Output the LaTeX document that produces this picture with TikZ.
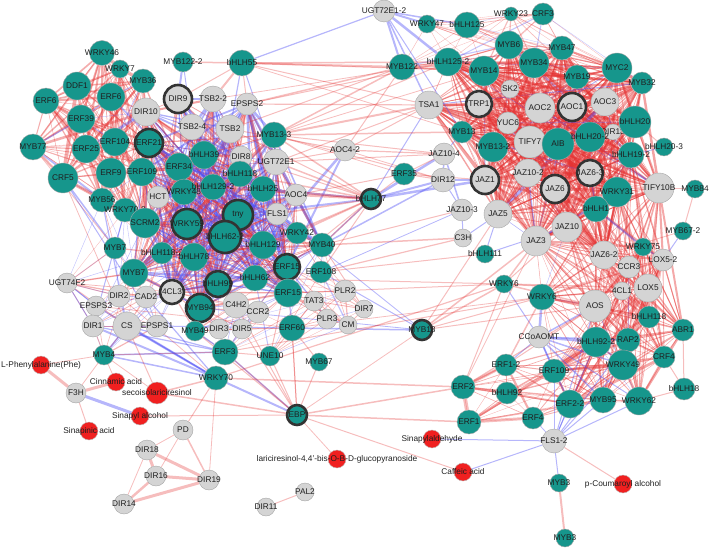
\documentclass[tikz,border=0pt]{standalone}
\usepackage{fontspec}
\setmainfont{Liberation Sans}
\pgfdeclarelayer{bg}
\pgfsetlayers{bg,main}
\definecolor{tealN}{RGB}{22,150,140}
\definecolor{grayN}{RGB}{212,212,212}
\definecolor{redN}{RGB}{240,32,32}
\definecolor{redE}{RGB}{228,50,50}
\definecolor{blueE}{RGB}{80,80,245}
\tikzset{
  tn/.style={circle,fill=tealN,draw=black!35,line width=0.4pt,inner sep=0pt},
  gn/.style={circle,fill=grayN,draw=black!35,line width=0.4pt,inner sep=0pt},
  rn/.style={circle,fill=redN,draw=black!25,line width=0.4pt,inner sep=0pt},
  bd/.style={draw=black!80,line width=2.6pt},
  lab/.style={font=\fontsize{8.3}{9}\selectfont,text=black!88,inner sep=0pt},
  re/.style={draw=redE,draw opacity=0.32},
  be/.style={draw=blueE,draw opacity=0.42}
}
\newcommand\nd[6]{\node[#1,minimum size=#5pt,label={[lab]center:{#6}}] (#2) at (#3,#4) {};}
\newcommand\clus[5]{%
\foreach \a [count=\i] in {#1}{%
 \foreach \b [count=\j] in {#1}{%
  \ifnum\j>\i
   \pgfmathtruncatemacro\dd{\j-\i}%
   \ifnum\dd<#2
    \pgfmathsetmacro\ww{0.3+#4*rnd*rnd}%
    \pgfmathsetmacro\rr{rnd}%
    \ifdim\rr pt<#3pt \draw[be,draw opacity=#5,line width=\ww pt](\a)--(\b);\else\draw[re,draw opacity=#5,line width=\ww pt](\a)--(\b);\fi
   \fi
  \fi}}}
\begin{document}
\begin{tikzpicture}[x=1pt,y=-1pt]
\useasboundingbox (0,0) rectangle (709,548);
% ---------- nodes: left cluster
\nd{tn}{WRKY46}{102}{53}{25}{WRKY46}
\nd{tn}{WRKY7}{120}{69}{18}{WRKY7}
\nd{tn}{MYB122x2}{183}{62}{20}{MYB122-2}
\nd{tn}{DDF1}{77}{86}{28}{DDF1}
\nd{tn}{MYB36}{143}{81}{24}{MYB36}
\nd{tn}{ERF6a}{46}{101}{26}{ERF6}
\nd{tn}{ERF6b}{111}{97}{28}{ERF6}
\nd{tn}{ERF39}{81}{119}{28}{ERF39}
\nd{tn}{MYB77}{33}{147}{26}{MYB77}
\nd{tn}{ERF25}{86}{149}{28}{ERF25}
\nd{tn}{ERF104}{115}{142}{28}{ERF104}
\nd{gn}{DIR10}{146}{112}{28}{DIR10}
\nd{gn,bd}{DIR9}{178}{99}{28}{DIR9}
\nd{gn}{TSB2x2}{213}{99}{26}{TSB2-2}
\nd{gn}{EPSPS2}{247}{104}{22}{EPSPS2}
\nd{gn}{TSB2x4}{192}{127}{26}{TSB2-4}
\nd{gn}{TSB2}{230}{129}{28}{TSB2}
\nd{tn,bd}{ERF21}{149}{143}{28}{ERF21}
\nd{tn}{CRF5}{63}{178}{30}{CRF5}
\nd{tn}{ERF9}{111}{173}{30}{ERF9}
\nd{tn}{ERF109a}{142}{172}{28}{ERF109}
\nd{tn}{bHLH39}{204}{155}{28}{bHLH39}
\nd{gn}{DIR8}{241}{157}{22}{DIR8}
\nd{tn}{ERF34}{179}{167}{28}{ERF34}
\nd{tn}{bHLH55}{242}{63}{26}{bHLH55}
\nd{tn}{MYB13x3}{274}{135}{26}{MYB13-3}
\nd{gn}{UGT72E1}{276}{162}{26}{UGT72E1}
\nd{tn}{bHLH118c}{240}{174}{26}{bHLH118}
\nd{tn}{MYB56}{102}{200}{24}{MYB56}
\nd{gn}{HCT}{158}{197}{22}{HCT}
\nd{tn}{WRKY48}{184}{192}{26}{WRKY48}
\nd{tn}{bHLH129x2}{213}{187}{26}{bHLH129-2}
\nd{tn}{bHLH25}{263}{189}{26}{bHLH25}
\nd{gn}{AOC4}{296}{195}{22}{AOC4}
\nd{tn}{WRKY70x2}{125}{210}{24}{WRKY70-2}
\nd{tn}{SCRM2}{145}{223}{30}{SCRM2}
\nd{tn,bd}{WRKY59}{187}{224}{30}{WRKY59}
\nd{tn,bd}{tny}{238}{215}{30}{tny}
\nd{gn}{FLS1}{277}{214}{22}{FLS1}
\nd{tn,bd}{bHLH62x2}{225}{237}{32}{bHLH62-2}
\nd{tn}{WRKY42}{297}{233}{22}{WRKY42}
\nd{tn}{MYB7a}{115}{248}{22}{MYB7}
\nd{tn}{bHLH118x2}{162}{253}{22}{bHLH118-2}
\nd{tn}{bHLH78}{194}{257}{28}{bHLH78}
\nd{tn}{bHLH129}{263}{245}{28}{bHLH129}
\nd{tn}{MYB40}{322}{245}{24}{MYB40}
\nd{tn}{MYB7b}{134}{273}{28}{MYB7}
\nd{tn,bd}{ERF15a}{287}{267}{26}{ERF15}
\nd{tn}{ERF108}{321}{272}{22}{ERF108}
\nd{tn}{bHLH62}{255}{278}{26}{bHLH62}
\nd{tn,bd}{bHLH99}{218}{284}{26}{bHLH99}
\nd{gn}{UGT74F2}{67}{283}{20}{UGT74F2}
\nd{gn}{DIR2}{119}{296}{22}{DIR2}
\nd{gn}{CAD2}{146}{297}{22}{CAD2}
\nd{gn,bd}{FCLthree}{172}{292}{24}{4CL3}
\nd{tn,bd}{MYB94}{200}{308}{28}{MYB94}
\nd{gn}{C4H2}{236}{305}{26}{C4H2}
\nd{gn}{CCR2}{258}{312}{22}{CCR2}
\nd{tn}{ERF15b}{288}{293}{28}{ERF15}
\nd{gn}{TAT3}{314}{301}{20}{TAT3}
\nd{gn}{PLR2}{345}{291}{22}{PLR2}
\nd{gn}{DIR7}{364}{309}{18}{DIR7}
\nd{gn}{PLR3}{327}{319}{20}{PLR3}
\nd{gn}{CM}{348}{325}{18}{CM}
\nd{gn}{EPSPS3}{96}{306}{20}{EPSPS3}
\nd{gn}{DIR1}{93}{326}{22}{DIR1}
\nd{gn}{CS}{127}{326}{28}{CS}
\nd{gn}{EPSPS1}{157}{326}{22}{EPSPS1}
\nd{tn}{MYB49}{195}{331}{20}{MYB49}
\nd{gn}{DIR3}{219}{329}{20}{DIR3}
\nd{gn}{DIR5}{242}{329}{20}{DIR5}
\nd{tn}{ERF60}{292}{328}{26}{ERF60}
\nd{tn}{ERF3}{225}{352}{26}{ERF3}
\nd{tn}{UNE10}{270}{356}{20}{UNE10}
\nd{tn}{MYB67}{319}{362}{18}{MYB67}
\nd{tn}{MYB4}{104}{355}{20}{MYB4}
\nd{tn}{WRKY70}{216}{378}{24}{WRKY70}
\nd{tn,bd}{EBP}{297}{415}{20}{EBP}
% ---------- middle
\nd{gn}{AOC4x2}{345}{150}{22}{AOC4-2}
\nd{tn,bd}{bHLH77}{371}{199}{20}{bHLH77}
\nd{tn}{ERF35}{404}{174}{22}{ERF35}
\nd{tn,bd}{MYB18}{422}{330}{20}{MYB18}
\nd{gn}{UGT72E1x2}{384}{11}{22}{UGT72E1-2}
% ---------- right top
\nd{tn}{MYB122}{402}{67}{26}{MYB122}
\nd{tn}{WRKY47}{427}{24}{18}{WRKY47}
\nd{tn}{bHLH125}{467}{25}{26}{bHLH125}
\nd{tn}{bHLH125x2}{448}{62}{28}{bHLH125-2}
\nd{tn}{WRKY23}{511}{14}{14}{WRKY23}
\nd{tn}{CRF3}{543}{14}{22}{CRF3}
\nd{tn}{MYB6}{509}{45}{28}{MYB6}
\nd{tn}{MYB47}{562}{48}{24}{MYB47}
\nd{tn}{MYB14}{484}{71}{30}{MYB14}
\nd{tn}{MYB34}{534}{63}{30}{MYB34}
\nd{tn}{MYC2}{617}{68}{30}{MYC2}
\nd{tn}{MYB19}{577}{77}{24}{MYB19}
\nd{tn}{MYB32}{642}{83}{22}{MYB32}
\nd{gn}{TSA1}{429}{105}{28}{TSA1}
\nd{gn}{SK2}{510}{89}{18}{SK2}
\nd{gn,bd}{TRP1}{479}{104}{26}{TRP1}
\nd{gn}{AOC2}{540}{108}{30}{AOC2}
\nd{gn,bd}{AOC1}{572}{107}{28}{AOC1}
\nd{gn}{AOC3}{605}{102}{28}{AOC3}
\nd{gn}{YUC6}{508}{123}{22}{YUC6}
\nd{gn}{DIR13}{613}{132}{16}{DIR13}
\nd{tn}{bHLH20}{635}{122}{32}{bHLH20}
\nd{tn}{MYB13}{462}{132}{22}{MYB13}
\nd{gn}{JAZ10x4}{444}{154}{22}{JAZ10-4}
\nd{tn}{MYB13x2}{493}{147}{30}{MYB13-2}
\nd{gn}{TIFY7}{530}{142}{32}{TIFY7}
\nd{tn}{AIB}{558}{144}{32}{AIB}
\nd{tn}{bHLH20x2}{590}{137}{30}{bHLH20-2}
\nd{tn}{bHLH19x2}{631}{155}{26}{bHLH19-2}
\nd{tn}{bHLH20x3}{664}{147}{18}{bHLH20-3}
\nd{gn}{DIR12}{443}{180}{24}{DIR12}
\nd{gn,bd}{JAZ1}{485}{180}{28}{JAZ1}
\nd{gn}{JAZ10x2}{528}{173}{28}{JAZ10-2}
\nd{gn,bd}{JAZ6x3}{590}{173}{26}{JAZ6-3}
\nd{gn,bd}{JAZ6}{555}{189}{28}{JAZ6}
\nd{tn}{WRKY31}{617}{192}{30}{WRKY31}
\nd{gn}{TIFY10B}{659}{188}{30}{TIFY10B}
\nd{tn}{MYB84}{695}{189}{18}{MYB84}
\nd{tn}{bHLH1}{596}{209}{26}{bHLH1}
\nd{gn}{JAZ10x3}{462}{210}{22}{JAZ10-3}
\nd{gn}{JAZ5}{498}{214}{28}{JAZ5}
\nd{gn}{JAZ10}{567}{227}{30}{JAZ10}
\nd{gn}{JAZ3}{536}{241}{30}{JAZ3}
\nd{gn}{C3H}{463}{238}{18}{C3H}
\nd{tn}{MYB67x2}{683}{231}{18}{MYB67-2}
\nd{tn}{bHLH111}{485}{254}{18}{bHLH111}
\nd{tn}{WRKY75}{643}{247}{18}{WRKY75}
\nd{gn}{JAZ6x2}{604}{255}{28}{JAZ6-2}
\nd{gn}{LOX5x2}{663}{260}{22}{LOX5-2}
\nd{gn}{CCR3}{629}{267}{22}{CCR3}
% ---------- right lower
\nd{tn}{WRKY6a}{504}{284}{18}{WRKY6}
\nd{gn}{FCLone}{622}{291}{18}{4CL1}
\nd{gn}{LOX5}{648}{288}{28}{LOX5}
\nd{tn}{WRKY6b}{542}{297}{26}{WRKY6}
\nd{gn}{AOS}{595}{306}{32}{AOS}
\nd{tn}{bHLH118r}{649}{317}{22}{bHLH118}
\nd{tn}{ABR1}{683}{330}{22}{ABR1}
\nd{gn}{CCoAOMT}{539}{337}{22}{CCoAOMT}
\nd{tn}{RAP2}{628}{340}{24}{RAP2}
\nd{tn}{bHLH92x2}{596}{342}{30}{bHLH92-2}
\nd{tn}{CRF4}{664}{357}{22}{CRF4}
\nd{tn}{ERF1x2}{506}{365}{22}{ERF1-2}
\nd{tn}{ERF109r}{554}{371}{24}{ERF109}
\nd{tn}{WRKY49}{623}{365}{30}{WRKY49}
\nd{tn}{ERF2}{463}{387}{24}{ERF2}
\nd{tn}{bHLH92}{507}{393}{22}{bHLH92}
\nd{tn}{bHLH18}{684}{389}{22}{bHLH18}
\nd{tn}{ERF2x2}{570}{404}{28}{ERF2-2}
\nd{tn}{MYB95}{603}{400}{26}{MYB95}
\nd{tn}{WRKY62}{639}{401}{28}{WRKY62}
\nd{tn}{ERF1}{469}{422}{24}{ERF1}
\nd{tn}{ERF4}{533}{418}{22}{ERF4}
\nd{gn}{FLS1x2}{554}{441}{24}{FLS1-2}
\nd{tn}{MYB3a}{559}{483}{18}{MYB3}
\nd{tn}{MYB3b}{565}{538}{18}{MYB3}
% ---------- bottom left
\nd{gn}{F3H}{76}{393}{20}{F3H}
\nd{gn}{PD}{183}{430}{20}{PD}
\nd{gn}{DIR18}{147}{450}{20}{DIR18}
\nd{gn}{DIR16}{156}{476}{20}{DIR16}
\nd{gn}{DIR19}{209}{480}{20}{DIR19}
\nd{gn}{DIR14}{124}{504}{20}{DIR14}
\nd{gn}{PAL2}{305}{492}{18}{PAL2}
\nd{gn}{DIR11}{266}{507}{18}{DIR11}
% ---------- metabolites
\nd{rn}{LPhe}{41}{365}{18}{L-Phenylalanine(Phe)}
\nd{rn}{Cinn}{116}{382}{18}{Cinnamic acid}
\nd{rn}{Seco}{157}{393}{22}{secoisolariciresinol}
\nd{rn}{SinAlc}{140}{416}{18}{Sinapyl alcohol}
\nd{rn}{SinAcid}{89}{431}{18}{Sinapinic acid}
\nd{rn}{Lari}{337}{459}{18}{lariciresinol-4,4'-bis-O-B-D-glucopyranoside}
\nd{rn}{Sinald}{432}{439}{18}{Sinapylaldehyde}
\nd{rn}{Caff}{463}{472}{18}{Caffeic acid}
\nd{rn}{pCou}{623}{484}{18}{p-Coumaroyl alcohol}
% ---------- edges
\begin{pgfonlayer}{bg}
\pgfmathsetseed{11}
% left ERF cluster
\clus{WRKY46,WRKY7,DDF1,MYB36,ERF6a,ERF6b,ERF39,MYB77,ERF25,ERF104,ERF21,CRF5,ERF9,ERF109a,ERF34,MYB56,WRKY70x2,SCRM2,DIR10}{40}{0.06}{3.5}{0.4}
% central mixed cluster
\clus{DIR9,TSB2x2,TSB2x4,TSB2,DIR10,bHLH39,DIR8,bHLH118c,bHLH129x2,WRKY48,HCT,WRKY59,tny,bHLH62x2,bHLH25,bHLH129,bHLH78,bHLH118x2,bHLH99,bHLH62,MYB94,FCLthree,ERF15a,ERF15b,MYB7b,ERF21,ERF34,ERF109a,SCRM2,AOC4,FLS1,WRKY42,UGT72E1,EPSPS2,MYB13x3,MYB40}{20}{0.5}{3}{0.45}
% right JAZ cluster
\clus{MYB6,MYB14,MYB34,MYB47,MYB19,MYC2,MYB32,SK2,TRP1,AOC2,AOC1,AOC3,YUC6,MYB13,MYB13x2,TIFY7,AIB,bHLH20x2,DIR13,bHLH20,bHLH19x2,JAZ1,JAZ10x2,JAZ6,JAZ6x3,WRKY31,TIFY10B,bHLH1,JAZ5,JAZ10,JAZ3,JAZ6x2,bHLH125x2,TSA1}{40}{0.04}{3.5}{0.45}
% right lower cluster
\clus{TIFY10B,WRKY31,bHLH1,bHLH19x2,JAZ10,JAZ3,JAZ6x2,WRKY75,LOX5x2,CCR3,FCLone,LOX5,AOS,WRKY6b,bHLH118r,ABR1,RAP2,bHLH92x2,CRF4,WRKY49,MYB95,WRKY62,ERF2x2,ERF109r}{16}{0.03}{3}{0.42}
% bottom ERF cluster
\clus{ERF1x2,ERF2,bHLH92,ERF1,ERF4,ERF109r,ERF2x2,MYB95,WRKY49,bHLH92x2}{40}{0}{3.5}{0.4}
% top right
\clus{WRKY23,CRF3,MYB6,MYB47,MYB34,MYB14,bHLH125,WRKY47,MYC2,MYB19,bHLH125x2,MYB122,MYB32}{40}{0.1}{1.5}{0.32}
% centre lower
\clus{bHLH99,MYB94,FCLthree,C4H2,CCR2,DIR3,DIR5,MYB49,ERF3,ERF60,ERF15b,ERF15a,TAT3,PLR2,PLR3,CM,DIR7,UNE10,bHLH62,MYB40,ERF108,WRKY42}{6}{0.3}{1.5}{0.34}
% lower left
\clus{MYB56,WRKY70x2,MYB7a,bHLH118x2,MYB7b,UGT74F2,DIR2,CAD2,FCLthree,EPSPS3,DIR1,CS,EPSPS1,MYB4,bHLH78,SCRM2}{6}{0.45}{1.5}{0.36}
% explicit blue edges
\foreach \a/\b/\w in {UGT72E1x2/bHLH55/1.2,UGT72E1x2/MYB122/2,UGT72E1x2/bHLH125x2/2.5,UGT72E1x2/WRKY47/2,
 UGT72E1x2/bHLH125/1.5,UGT72E1x2/TSA1/1.5,UGT72E1x2/MYB13/1,MYB122x2/DIR9/2,MYB122x2/TSB2x4/1,
 bHLH55/TSB2/1.2,bHLH55/UGT72E1/1,MYB13x3/UGT72E1/1,MYB13x3/FLS1/0.6,AOC4x2/bHLH129/2.5,AOC4x2/ERF15a/2,
 bHLH77/JAZ10x4/2.5,bHLH77/DIR12/2,bHLH77/JAZ1/2.5,bHLH77/TSA1/1,bHLH77/tny/2,bHLH77/bHLH25/2,
 MYB40/DIR12/1.5,MYB40/bHLH77/1.2,ERF108/JAZ10x3/0.8,JAZ10x3/C3H/1,JAZ10x4/JAZ10x3/1.5,DIR12/JAZ1/1.5,
 C3H/JAZ5/1,bHLH111/JAZ5/1,bHLH111/JAZ10/1,DIR12/JAZ10x3/1,JAZ10x4/DIR12/1.5,MYB13/JAZ10x4/1,
 MYB18/ERF60/1.5,MYB18/ERF108/1,MYB18/FLS1/0.8,MYB18/MYB94/0.8,
 CCoAOMT/WRKY6a/1,CCoAOMT/WRKY6b/2.5,CCoAOMT/AOS/1.5,CCoAOMT/bHLH92x2/2.5,CCoAOMT/ERF2x2/1.5,
 CCoAOMT/MYB95/1.5,CCoAOMT/WRKY49/1.5,CCoAOMT/ERF109r/1.5,CCoAOMT/ERF1x2/1,CCoAOMT/RAP2/1.5,CCoAOMT/WRKY62/1,
 FLS1x2/ERF2x2/1,FLS1x2/MYB95/1,FLS1x2/WRKY62/1,FLS1x2/WRKY49/1,FLS1x2/ERF109r/1,FLS1x2/bHLH92x2/1,
 FLS1x2/RAP2/1,FLS1x2/Sinald/1,FLS1x2/Caff/1,FLS1x2/MYB3a/1,FLS1x2/AOS/1,FLS1x2/ERF4/0.8,
 F3H/SinAlc/3,WRKY70/CS/2,WRKY70/DIR1/2,WRKY70/EPSPS3/1.5,MYB4/CS/1.5,MYB4/ERF3/1.5,MYB4/WRKY70/1.5,
 DIR1/ERF3/1.2,CS/ERF3/1.2,CRF5/MYB7a/1.5,MYB56/CS/1.2,CRF5/EPSPS1/1,WRKY70x2/DIR1/1,UGT74F2/DIR1/1,
 UGT74F2/EPSPS3/1,EBP/WRKY70/2,EBP/ERF3/1.5,MYB67x2/LOX5x2/1,bHLH20x3/bHLH19x2/0.8,WRKY75/LOX5x2/1.5,
 bHLH1/WRKY75/2,JAZ6x3/bHLH1/1.2,EPSPS1/ERF60/1,CS/WRKY70/1,MYB49/ERF3/1.5,CAD2/WRKY70/1.2}
 \draw[be,line width=\w pt] (\a) -- (\b);
% explicit red edges
\foreach \a/\b/\w in {bHLH55/MYB122x2/1.5,bHLH55/MYB122/2,bHLH55/bHLH125x2/1.5,bHLH55/TSA1/1,bHLH55/MYB14/1,
 bHLH55/MYB13/0.8,bHLH55/TSB2x2/2,bHLH55/EPSPS2/1,bHLH55/DIR9/1,EPSPS2/MYB122/1.5,EPSPS2/bHLH125x2/1,
 EPSPS2/TSA1/1.2,MYB13x3/MYB122/1.5,MYB13x3/TSA1/2,MYB13x3/MYB13/1.5,MYB13x3/JAZ10x4/1,MYB13x3/DIR12/1,
 MYB13x3/bHLH125x2/1,MYB13x3/MYB14/0.8,AOC4x2/MYB122/1,AOC4x2/TSA1/1,AOC4x2/JAZ10x4/1.2,AOC4x2/DIR12/0.8,
 AOC4x2/TSB2/1,AOC4x2/UGT72E1/1,UGT72E1/JAZ10x4/1,UGT72E1/TSA1/1,TSB2/MYB122/1,TSB2x2/bHLH125x2/0.8,
 bHLH77/bHLH25/2,bHLH77/AOC4/2,bHLH77/FLS1/1.5,bHLH77/WRKY42/1.5,bHLH77/MYB13x3/1.5,bHLH77/UGT72E1/1.5,
 bHLH77/bHLH129/1.5,bHLH77/ERF15a/1,bHLH77/bHLH118c/1.5,bHLH77/bHLH129x2/1,bHLH77/ERF108/1,bHLH77/TSB2/1,
 bHLH77/DIR8/1,bHLH77/MYB40/1.5,ERF35/bHLH77/1,ERF35/AOC4/1,ERF35/JAZ10x4/1,ERF35/DIR12/1,ERF35/JAZ1/1,
 ERF35/MYB13x3/0.8,ERF108/C3H/1.2,MYB40/C3H/1.5,MYB40/JAZ10x3/1,ERF108/bHLH111/1,
 MYB18/WRKY6a/1.5,MYB18/JAZ3/1.5,MYB18/JAZ5/1,MYB18/WRKY6b/1,MYB18/AOS/1,
 ERF15b/WRKY6a/1,bHLH62/WRKY6a/1,ERF60/WRKY6b/0.8,WRKY70/WRKY6a/1.2,ERF3/WRKY6b/1,
 EBP/ERF2/1.5,EBP/ERF1/1.5,EBP/Caff/1,EBP/Lari/0.8,EBP/UNE10/1,EBP/ERF3/1,EBP/MYB67/1,EBP/ERF60/1,
 EBP/MYB49/1,EBP/DIR5/1,EBP/MYB18/0.8,EBP/C4H2/1,WRKY70/ERF2/1.5,Seco/EBP/1.5,SinAlc/EBP/1,
 LPhe/F3H/3,F3H/Cinn/3,F3H/SinAcid/1,F3H/MYB4/0.8,LPhe/MYB4/0.8,Cinn/MYB4/0.8,Seco/WRKY70/1.5,
 Seco/MYB4/0.8,Seco/CS/1,PD/WRKY70/1,PD/DIR18/0.8,PD/DIR16/0.8,PD/DIR19/1.5,DIR18/DIR16/3,DIR18/DIR19/3,
 DIR16/DIR19/3,DIR14/DIR19/3,DIR14/DIR16/2.5,DIR14/DIR18/0.8,DIR19/WRKY70/0.8,PAL2/DIR11/1,
 MYB4/DIR1/1,MYB4/CS/0.8,UGT74F2/MYB7b/1.5,UGT74F2/DIR2/1,UGT74F2/MYB7a/1,UGT74F2/CS/1,
 MYB3a/MYB3b/2,FLS1x2/pCou/1,ERF2/ERF1/4,ERF2/ERF1x2/3,ERF1/ERF4/3,ERF2/WRKY6a/1,ERF1x2/WRKY6b/1.5,
 MYB84/MYB67x2/1,bHLH20x3/bHLH20/1,ABR1/bHLH18/1,CRF4/bHLH18/1,WRKY62/bHLH18/1,LOX5/ABR1/1.5,
 WRKY6a/AOS/1.5,WRKY6a/JAZ3/1.5,WRKY6a/LOX5/1.5,WRKY6a/FCLone/1.2,WRKY6b/AOS/2,WRKY6b/FCLone/1.5,
 WRKY6a/JAZ10/1,WRKY6b/JAZ6x2/1.2,MYB84/TIFY10B/0.8,MYB67x2/JAZ6x2/0.8,ABR1/LOX5x2/1,
 ERF2/AOS/1.2,ERF1x2/AOS/1,ERF2/JAZ3/0.8,MYB4/ERF3/0.8,EPSPS3/ERF60/0.8,DIR2/WRKY70/0.8,
 ERF60/EBP/1,UNE10/ERF3/1,MYB67/ERF60/1,CRF5/CS/0.8,MYB77/MYB7a/0.8}
 \draw[re,line width=\w pt] (\a) -- (\b);
\end{pgfonlayer}
\end{tikzpicture}
\end{document}
